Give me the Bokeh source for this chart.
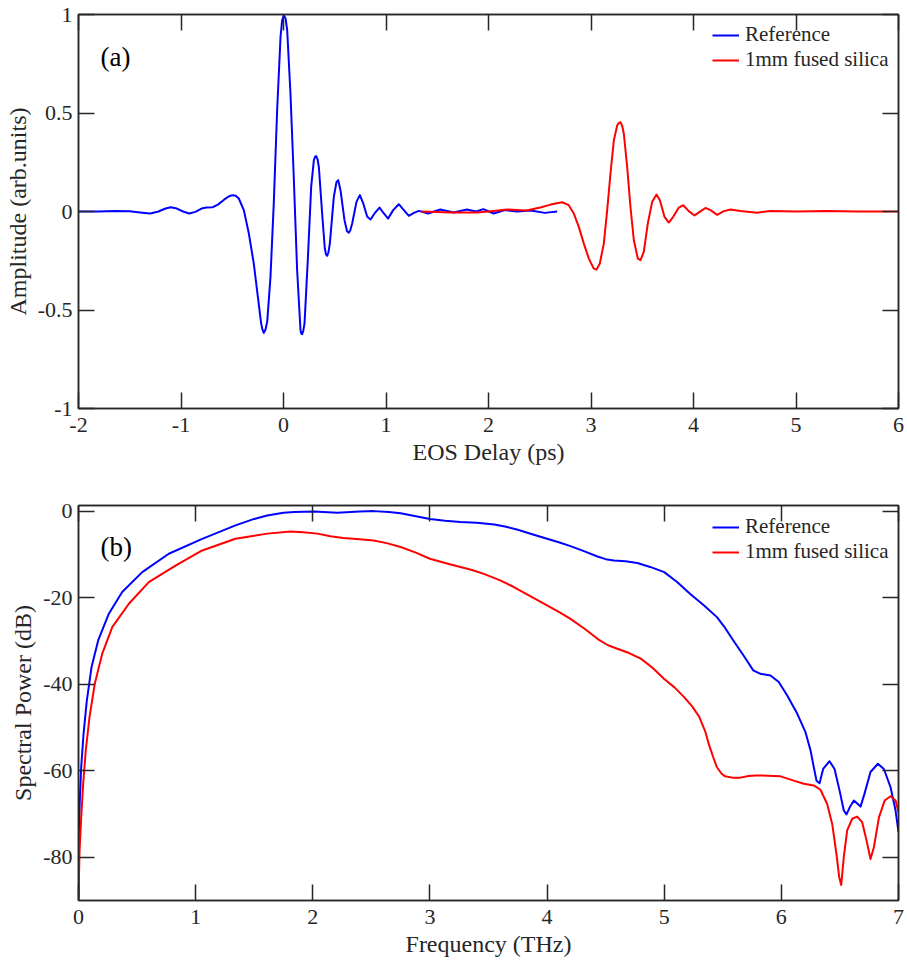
from bokeh.plotting import figure
from bokeh.models import (Range1d, FixedTicker, LinearAxis, Legend, LegendItem,
                          CustomJSTickFormatter, Label)
from bokeh.layouts import column
from bokeh.embed import file_html
from bokeh.resources import INLINE

# ---------------- data ----------------
# (a) time-domain waveforms
ref_t = [-2.00, -1.80, -1.65, -1.50, -1.40, -1.30, -1.22, -1.15, -1.10, -1.04,
         -0.98, -0.92, -0.86, -0.80, -0.75, -0.69, -0.64, -0.58, -0.54, -0.50,
         -0.466, -0.436, -0.387, -0.338, -0.29, -0.25, -0.218, -0.205, -0.192, -0.176,
         -0.159, -0.127, -0.095, -0.062, -0.029, -0.013, 0.003, 0.020, 0.036, 0.068,
         0.10, 0.133, 0.166, 0.174, 0.182, 0.193, 0.205, 0.237, 0.270, 0.296,
         0.308, 0.319, 0.332, 0.345, 0.377, 0.403, 0.415, 0.426, 0.438, 0.452,
         0.491, 0.517, 0.534, 0.556, 0.595, 0.620, 0.637, 0.652, 0.670, 0.712,
         0.745, 0.778, 0.817, 0.849, 0.888, 0.937, 0.979, 1.021, 1.07, 1.125,
         1.174, 1.223, 1.272, 1.32, 1.41, 1.53, 1.66, 1.79, 1.88, 1.95,
         2.05, 2.16, 2.28, 2.41, 2.55, 2.67]
ref_amp = [0.000, 0.000, 0.003, 0.001, -0.005, -0.010, 0.000, 0.015, 0.022, 0.015,
           0.000, -0.010, -0.002, 0.015, 0.020, 0.022, 0.035, 0.060, 0.075, 0.083,
           0.080, 0.066, 0.007, -0.112, -0.264, -0.433, -0.569, -0.600, -0.616, -0.600,
           -0.560, -0.332, 0.040, 0.514, 0.886, 0.971, 0.996, 0.980, 0.920, 0.599,
           0.176, -0.298, -0.603, -0.620, -0.623, -0.605, -0.569, -0.247, 0.125, 0.260,
           0.278, 0.281, 0.265, 0.226, -0.010, -0.188, -0.218, -0.225, -0.208, -0.163,
           0.074, 0.150, 0.159, 0.108, -0.044, -0.100, -0.108, -0.095, -0.061, 0.049,
           0.083, 0.041, -0.027, -0.041, -0.010, 0.020, -0.010, -0.036, 0.007, 0.037,
           0.007, -0.022, -0.007, 0.003, -0.010, 0.010, -0.005, 0.010, 0.000, 0.012,
           -0.010, 0.007, 0.000, 0.005, -0.007, 0.000]

fs_t = [1.34, 1.50, 1.63, 1.89, 2.05, 2.18, 2.37, 2.507, 2.605, 2.719,
        2.783, 2.832, 2.881, 2.93, 2.979, 3.027, 3.054, 3.086, 3.125, 3.158,
        3.19, 3.223, 3.256, 3.272, 3.288, 3.304, 3.32, 3.353, 3.385, 3.418,
        3.457, 3.483, 3.515, 3.554, 3.597, 3.639, 3.672, 3.717, 3.759, 3.802,
        3.857, 3.900, 3.954, 4.01, 4.061, 4.117, 4.166, 4.231, 4.296, 4.361,
        4.459, 4.62, 4.75, 5.00, 5.30, 5.60, 6.00]
fs_amp = [0.000, -0.003, -0.005, -0.005, 0.003, 0.010, 0.005, 0.020, 0.035, 0.047,
          0.032, -0.010, -0.078, -0.163, -0.239, -0.290, -0.295, -0.264, -0.163, 0.007,
          0.193, 0.362, 0.438, 0.450, 0.453, 0.435, 0.396, 0.226, 0.023, -0.146,
          -0.239, -0.247, -0.205, -0.061, 0.049, 0.086, 0.057, -0.027, -0.056, -0.027,
          0.020, 0.032, 0.002, -0.020, -0.002, 0.018, 0.007, -0.017, 0.002, 0.010,
          0.003, -0.006, 0.003, 0.000, 0.002, 0.000, 0.000]

# (b) spectra
ref_f = [0.000, 0.003, 0.011, 0.023, 0.043, 0.071, 0.111, 0.168, 0.259, 0.373,
         0.544, 0.771, 1.056, 1.34, 1.50, 1.61, 1.75, 1.84, 2.01, 2.21,
         2.40, 2.52, 2.65, 2.75, 2.88, 3.00, 3.13, 3.26, 3.40, 3.55,
         3.65, 3.75, 3.88, 4.00, 4.10, 4.20, 4.32, 4.43, 4.50, 4.57,
         4.67, 4.77, 4.88, 5.00, 5.11, 5.22, 5.34, 5.45, 5.52, 5.59,
         5.68, 5.76, 5.822, 5.907, 5.978, 6.05, 6.135, 6.206, 6.249, 6.277,
         6.30, 6.326, 6.357, 6.411, 6.454, 6.497, 6.533, 6.556, 6.585, 6.619,
         6.653, 6.676, 6.71, 6.761, 6.824, 6.875, 6.932, 6.975, 7.00]
ref_db = [-89.6, -74.6, -66.9, -59.2, -51.5, -43.8, -36.1, -29.9, -23.7, -18.7,
          -14.1, -9.85, -6.4, -3.3, -1.8, -1.0, -0.4, -0.2, -0.1, -0.4,
          -0.1, 0.0, -0.2, -0.5, -1.2, -1.8, -2.2, -2.5, -2.7, -3.1,
          -3.6, -4.3, -5.4, -6.4, -7.2, -8.1, -9.3, -10.5, -11.1, -11.4,
          -11.6, -12.0, -12.9, -14.1, -16.4, -19.1, -21.8, -24.5, -27.0, -29.9,
          -33.5, -36.8, -37.6, -38.0, -39.5, -42.6, -46.8, -51.1, -55.3, -59.2,
          -62.3, -62.9, -59.6, -57.8, -59.6, -64.6, -69.2, -70.1, -68.4, -66.9,
          -67.7, -68.3, -65.3, -60.3, -58.4, -59.6, -63.8, -69.2, -74.2]

fs_f = [0.000, 0.009, 0.023, 0.04, 0.062, 0.094, 0.139, 0.202, 0.288, 0.43,
        0.60, 0.828, 1.056, 1.34, 1.50, 1.61, 1.81, 1.92, 2.04, 2.15,
        2.26, 2.40, 2.52, 2.63, 2.75, 2.88, 3.00, 3.13, 3.26, 3.36,
        3.46, 3.60, 3.72, 3.86, 4.00, 4.10, 4.20, 4.32, 4.45, 4.52,
        4.60, 4.70, 4.80, 4.90, 5.00, 5.09, 5.17, 5.24, 5.30, 5.35,
        5.38, 5.42, 5.45, 5.49, 5.52, 5.58, 5.65, 5.72, 5.78, 5.822,
        5.993, 6.106, 6.192, 6.277, 6.334, 6.391, 6.434, 6.47, 6.494, 6.511,
        6.533, 6.562, 6.605, 6.647, 6.69, 6.727, 6.761, 6.79, 6.833, 6.882,
        6.932, 6.975, 7.00]
fs_db = [-89.6, -78.5, -70.8, -63.0, -55.3, -47.6, -39.9, -33.0, -26.8, -21.4,
         -16.4, -12.6, -9.1, -6.4, -5.7, -5.2, -4.7, -4.9, -5.2, -5.8,
         -6.2, -6.5, -6.8, -7.4, -8.3, -9.6, -11.0, -12.0, -12.9, -13.6,
         -14.5, -16.0, -17.6, -19.7, -21.8, -23.3, -24.9, -27.2, -29.9, -31.0,
         -31.8, -32.8, -34.1, -36.2, -38.8, -40.8, -43.0, -45.2, -47.6, -50.9,
         -53.8, -57.0, -59.2, -60.7, -61.3, -61.6, -61.6, -61.2, -61.1, -61.1,
         -61.3, -62.3, -63.0, -63.4, -64.4, -67.7, -72.3, -79.2, -84.6, -86.4,
         -80.0, -73.8, -71.1, -70.6, -71.9, -76.1, -80.4, -77.7, -70.8, -66.9,
         -65.9, -66.9, -69.6]

t_ticks = [-2, -1, 0, 1, 2, 3, 4, 5, 6]
amp_ticks = [-1, -0.5, 0, 0.5, 1]
f_ticks = [0, 1, 2, 3, 4, 5, 6, 7]
db_ticks = [-80, -60, -40, -20, 0]

series_names = ["Reference", "1mm fused silica"]
series_colors = ["#0000FF", "#FF0000"]

# ---------------- styling ----------------
FONT = "Liberation Serif"
INK = "#262626"
fmt = CustomJSTickFormatter(code="return tick.toString();")


def style_axis(ax, ticks, show_labels=True):
    ax.ticker = FixedTicker(ticks=ticks)
    ax.formatter = fmt
    ax.axis_line_color = INK
    ax.axis_line_width = 1.5
    ax.major_tick_line_color = INK
    ax.major_tick_line_width = 1.5
    ax.major_tick_in = 16
    ax.major_tick_out = 0
    ax.minor_tick_line_color = None
    ax.major_label_text_font = FONT
    ax.axis_label_text_font = FONT
    ax.axis_label_text_font_style = "normal"
    ax.axis_label_text_color = INK
    ax.axis_label_text_font_size = "24px"
    if show_labels:
        ax.major_label_text_font_size = "22px"
        ax.major_label_text_color = INK
    else:
        ax.major_label_text_font_size = "1px"
        ax.major_label_text_color = None
        ax.major_label_standoff = 0


def make_fig(xr, yr, xticks, yticks, xlabel, ylabel, top_border, bottom_border, frame_h):
    p = figure(frame_width=820, frame_height=frame_h, x_range=xr, y_range=yr,
               output_backend="svg", toolbar_location=None,
               min_border_left=78, min_border_right=9,
               min_border_top=top_border, min_border_bottom=bottom_border)
    p.grid.visible = False
    p.outline_line_color = INK
    p.outline_line_width = 1.5
    p.background_fill_color = "white"
    p.border_fill_color = "white"
    style_axis(p.xaxis[0], xticks)
    style_axis(p.yaxis[0], yticks)
    p.xaxis[0].axis_label = xlabel
    p.yaxis[0].axis_label = ylabel
    p.xaxis[0].major_label_standoff = 9
    p.xaxis[0].axis_label_standoff = 4
    p.yaxis[0].major_label_standoff = 6
    p.yaxis[0].axis_label_standoff = 4
    top = LinearAxis()
    style_axis(top, xticks, show_labels=False)
    p.add_layout(top, "above")
    right = LinearAxis()
    style_axis(right, yticks, show_labels=False)
    p.add_layout(right, "right")
    return p


def add_legend(p, renderers, y_from_bottom):
    items = [LegendItem(label=n, renderers=[r]) for n, r in zip(series_names, renderers)]
    leg = Legend(items=items, location=(634, y_from_bottom))
    leg.label_text_font = FONT
    leg.label_text_font_size = "21px"
    leg.label_text_color = INK
    leg.glyph_width = 27
    leg.glyph_height = 20
    leg.label_height = 20
    leg.label_standoff = 6
    leg.spacing = 0
    leg.padding = 0
    leg.margin = 0
    leg.border_line_alpha = 0
    leg.background_fill_alpha = 0
    p.add_layout(leg)


# ---------------- (a) ----------------
p1 = make_fig(Range1d(-2, 6), Range1d(-1, 1), t_ticks, amp_ticks,
              "EOS Delay (ps)", "Amplitude (arb.units)", 14, 72, 394)
r1 = p1.line(ref_t, ref_amp, line_color=series_colors[0], line_width=2, line_join="round")
r2 = p1.line(fs_t, fs_amp, line_color=series_colors[1], line_width=2, line_join="round")
add_legend(p1, [r1, r2], 336)
p1.add_layout(Label(x=-1.785, y=0.783, text="(a)", text_font=FONT, text_font_size="27px",
                    text_color="black", text_baseline="middle", text_align="left"))

# ---------------- (b) ----------------
p2 = make_fig(Range1d(0, 7), Range1d(-90, 1.3), f_ticks, db_ticks,
              "Frequency (THz)", "Spectral Power (dB)", 25, 62, 395)
s1 = p2.line(ref_f, ref_db, line_color=series_colors[0], line_width=2, line_join="round")
s2 = p2.line(fs_f, fs_db, line_color=series_colors[1], line_width=2, line_join="round")
add_legend(p2, [s1, s2], 336)
p2.add_layout(Label(x=0.188, y=-8.4, text="(b)", text_font=FONT, text_font_size="27px",
                    text_color="black", text_baseline="middle", text_align="left"))

layout = column(p1, p2, spacing=0)
open("out.html", "w").write(file_html(layout, INLINE))
